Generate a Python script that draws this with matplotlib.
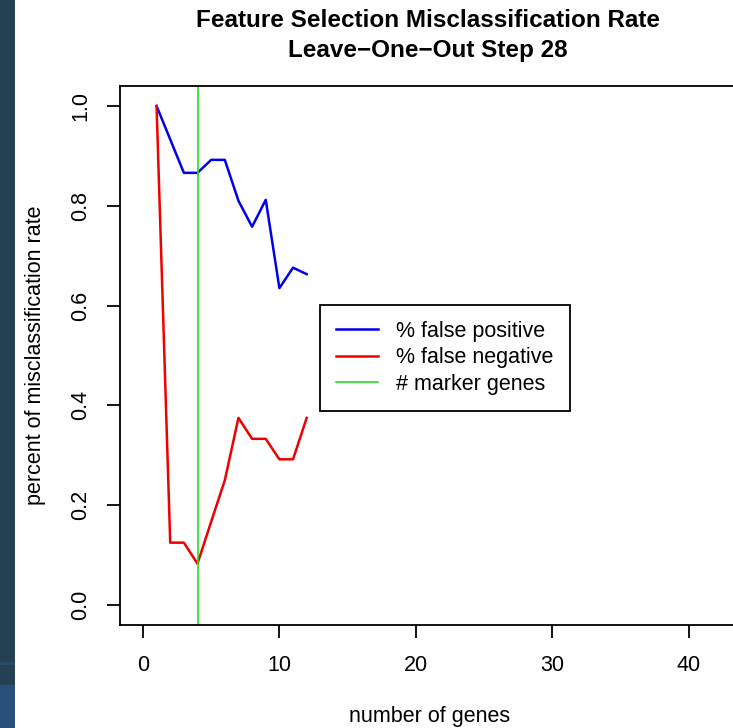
import numpy as np
import matplotlib.pyplot as plt
from matplotlib.patches import Rectangle

plt.rcParams['font.family'] = ['Liberation Sans', 'DejaVu Sans']

# misclassification rates per number of genes kept
n_genes = [1, 2, 3, 4, 5, 6, 7, 8, 9, 10, 11, 12]
false_pos = [1.0, 0.933, 0.866, 0.866, 0.892, 0.892, 0.810, 0.758, 0.812, 0.635, 0.676, 0.663]
false_neg = [1.0, 0.125, 0.125, 0.083, 0.167, 0.250, 0.375, 0.333, 0.333, 0.292, 0.292, 0.375]
marker_genes = 4

x_ticks = [0, 10, 20, 30, 40]
y_ticks = [0.0, 0.2, 0.4, 0.6, 0.8, 1.0]
legend_labels = ["% false positive", "% false negative", "# marker genes"]

W, H = 733, 728
fs = 15.5
fig = plt.figure(figsize=(W / 100, H / 100), dpi=100)
fig.patch.set_facecolor("white")

# dark slide border on the left edge
fig.patches.append(Rectangle((0, 0), 15 / W, 1, transform=fig.transFigure,
                             facecolor="#253f53", edgecolor="none", zorder=0))
fig.patches.append(Rectangle((0, 0), 15 / W, (H - 685) / H, transform=fig.transFigure,
                             facecolor="#28507a", edgecolor="none", zorder=0))
fig.patches.append(Rectangle((0, (H - 665) / H), 15 / W, 3 / H, transform=fig.transFigure,
                             facecolor="#2a4a68", edgecolor="none", zorder=0))

ax = fig.add_axes([120 / W, 1 - 625 / H, 619 / W, 539 / H])

# R-style 4% padding around the ranges
ax.set_xlim(-0.04 * 42, 42 * 1.04)
ax.set_ylim(-0.04, 1.04)

ax.plot(n_genes, false_pos, color="#0000ee", lw=1.8, label=legend_labels[0])
ax.plot(n_genes, false_neg, color="#ee0000", lw=1.8, label=legend_labels[1])
ax.axvline(marker_genes, color="#22dd22", lw=1.2, label=legend_labels[2])

ax.set_xticks(x_ticks)
ax.set_yticks(y_ticks)
ax.set_yticklabels([f"{v:.1f}" for v in y_ticks], rotation=90, va="center")
ax.tick_params(axis="both", direction="out", length=9.5, width=1.3,
               labelsize=fs, colors="black")
ax.tick_params(axis="x", pad=12)
ax.tick_params(axis="y", pad=11)
for s in ax.spines.values():
    s.set_linewidth(1.3)

ax.set_xlabel("number of genes", fontsize=fs, labelpad=22)
ax.set_ylabel("percent of misclassification rate", fontsize=fs, labelpad=18)

fig.text(428 / W, 1 - 27 / H, "Feature Selection Misclassification Rate",
         ha="center", va="baseline", fontsize=17.5, fontweight="bold")
fig.text(428 / W, 1 - 57 / H, "Leave\u2212One\u2212Out Step 28",
         ha="center", va="baseline", fontsize=17.5, fontweight="bold")

leg = ax.legend(loc="upper left", bbox_to_anchor=(0.323, 0.594), fontsize=fs,
                frameon=True, fancybox=False, edgecolor="black", framealpha=1,
                borderpad=0.75, handlelength=1.95, handletextpad=0.85,
                labelspacing=0.25, borderaxespad=0)
leg.get_frame().set_linewidth(1.3)

fig.savefig("out.png", dpi=100)
